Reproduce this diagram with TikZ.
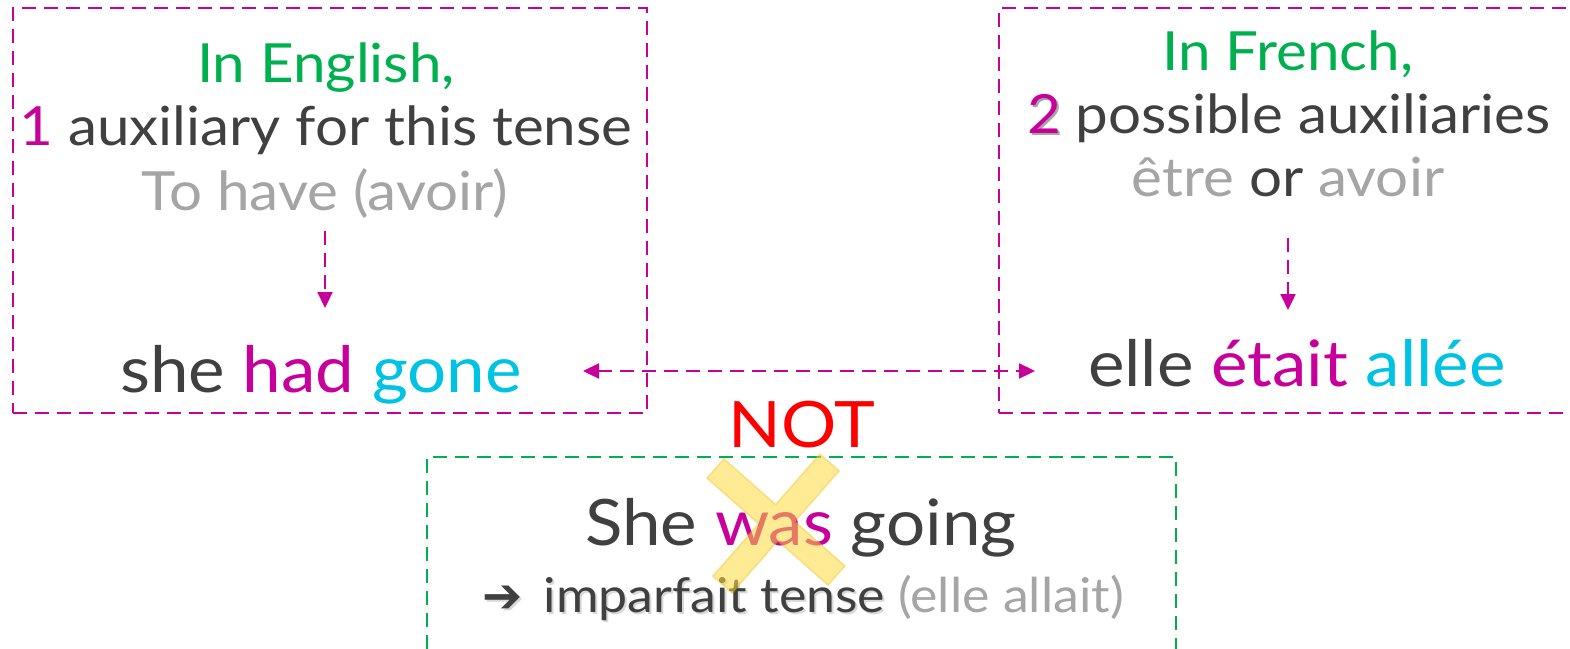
\documentclass[tikz,border=0pt]{standalone}
\usepackage{fontspec}
\setmainfont{Lato}[FakeStretch=1.08]
\newfontfamily\symfont{DejaVu Sans}
\usetikzlibrary{arrows.meta}
\definecolor{mag}{HTML}{C8009B}
\definecolor{grn}{HTML}{00B04F}
\definecolor{cyn}{HTML}{00C3E3}
\definecolor{dk}{HTML}{404040}
\definecolor{lg}{HTML}{A5A5A5}
\definecolor{xyel}{HTML}{FFDC3C}
\definecolor{xedge}{HTML}{F2C820}
\tikzset{
  box/.style={draw=mag, line width=2.3pt, dash pattern=on 14pt off 8pt, inner sep=0pt},
  gbox/.style={box, draw=grn},
  conn/.style={draw=mag, line width=2.3pt, dash pattern=on 14pt off 8pt, -{Triangle[length=16pt,width=15pt]}},
  biconn/.style={draw=mag, line width=2.3pt, dash pattern=on 14pt off 8pt, {Triangle[length=16pt,width=15pt]}-{Triangle[length=16pt,width=15pt]}},
  txt/.style={anchor=base, inner sep=0pt, text=dk},
  fmid/.style={font=\fontsize{54}{62}\selectfont},
  fbig/.style={font=\fontsize{64}{74}\selectfont},
  fsmall/.style={font=\fontsize{48}{56}\selectfont},
}
\begin{document}
\begin{tikzpicture}[x=1pt,y=1pt]
\useasboundingbox (0,0) rectangle (1570,-648);
\clip (0,0) rectangle (1570,-648);
\fill[white] (0,0) rectangle (1570,-648);

% boxes
\node[box, minimum width=634pt, minimum height=405pt] (lbox) at (330,-210.5) {};
\node[box, minimum width=620pt, minimum height=405pt] (rbox) at (1309,-210.5) {};
\node[gbox, minimum width=749pt, minimum height=260pt] (gbox) at (801.5,-587) {};

% left texts
\node[txt, fmid, text=grn] (e1) at (326,-82) {In English,};
\node[txt, fmid] (e2) at (326,-145) {\textcolor{mag}{1} auxiliary for this tense};
\node[txt, fmid, text=lg] (e3) at (325,-210) {To have (avoir)};
\node[txt, fbig] (e4) at (321,-392) {she \textcolor{mag}{had} \textcolor{cyn}{gone}};

% right texts
\node[txt, fmid, text=grn] (f1) at (1288,-70) {In French,};
\node[txt, fmid] (f2) at (1289,-133) {\makebox[0pt][l]{\hspace{2pt}\raisebox{-2pt}{\textcolor{black!35}{2}}}\textcolor{mag}{2} possible auxiliaries};
\node[txt, fmid] (f3) at (1288,-196) {\textcolor{lg}{être} or \textcolor{lg}{avoir}};
\node[txt, fbig] (f4) at (1297,-386) {elle \textcolor{mag}{était} \textcolor{cyn}{allée}};

% arrows
\draw[conn] (e3.south) ++(0,-13) -- (e3.south |- 0,-308);
\draw[conn] (f3.south) ++(0,-41) -- (f3.south |- 0,-310);
\coordinate (la) at (583,-371);
\coordinate (ra) at (1035,-371);
\draw[biconn] (la) -- (ra);

% NOT
\node[txt, fbig, text=red] (nt) at (802,-447) {NOT};

% green box texts
\node[txt, fbig] (g1) at (801,-545) {She \textcolor{mag}{was} going};
\node[txt, fsmall, text=black!30, opacity=0.5] (g2s) at (805,-614.5) {{\symfont ➔}\, imparfait tense \textcolor{white}{(elle allait)}};
\node[txt, fsmall] (g2) at (803,-612) {{\symfont ➔}\, imparfait tense \textcolor{lg}{(elle allait)}};

% yellow cross
\begin{scope}[transparency group, opacity=0.55]
  \draw[xedge, line width=27pt] (715,-468) -- (837,-576);
  \draw[xedge, line width=27pt] (830,-462) -- (722,-585);
  \draw[xyel, line width=23pt, shorten <=2pt, shorten >=2pt] (715,-468) -- (837,-576);
  \draw[xyel, line width=23pt, shorten <=2pt, shorten >=2pt] (830,-462) -- (722,-585);
\end{scope}
\end{tikzpicture}
\end{document}
